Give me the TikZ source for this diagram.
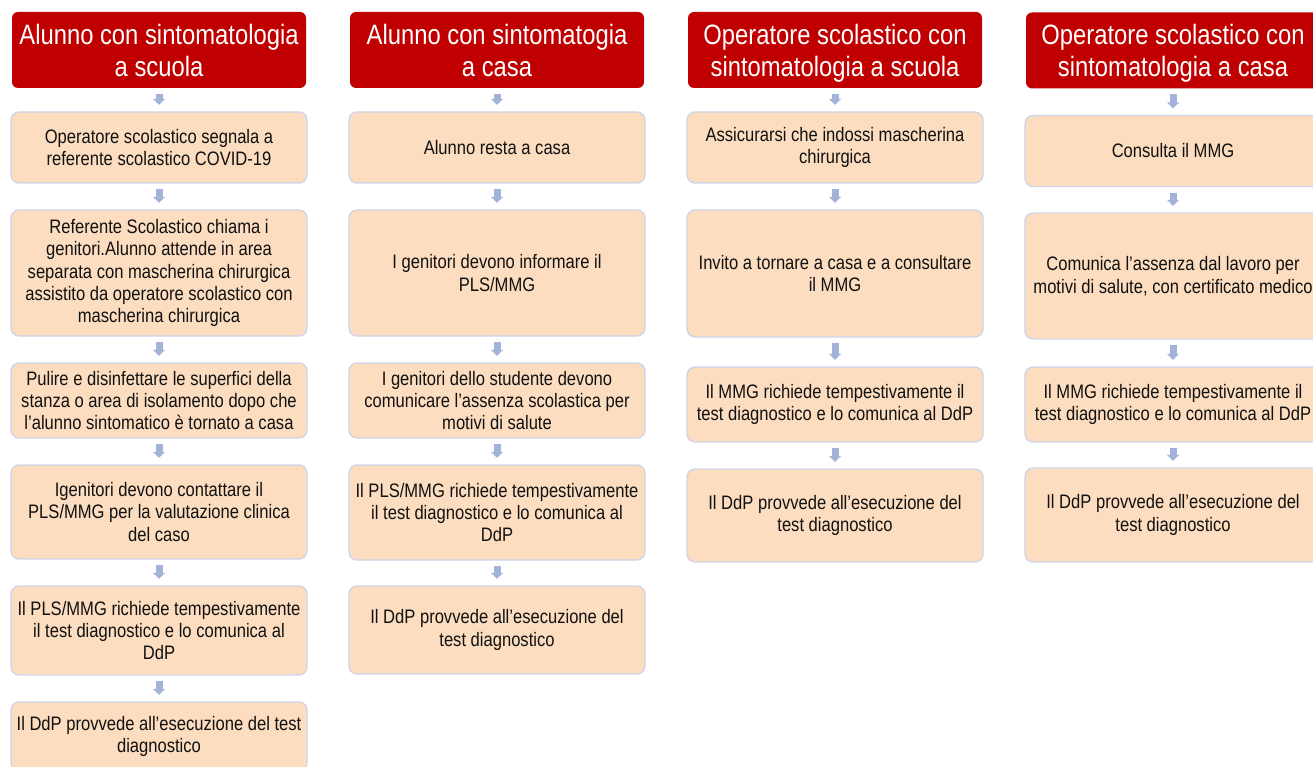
\documentclass[tikz,border=0pt]{standalone}
\usepackage{fontspec}
\setmainfont{Liberation Sans}[FakeStretch=0.85]
\usetikzlibrary{arrows.meta}
\definecolor{hdred}{HTML}{C00000}
\definecolor{peach}{HTML}{FCDDC0}
\definecolor{bordr}{HTML}{CDD4EA}
\definecolor{arrc}{HTML}{A2B2D8}
\definecolor{txt}{HTML}{111111}
\tikzset{
  head/.style={fill=hdred, draw=none, rounded corners=6pt, minimum width=294pt, minimum height=76pt,
    text=white, align=center, font=\fontsize{28}{32}\selectfont, inner sep=0pt, text depth=0pt},
  box/.style={fill=peach, draw=bordr, line width=1.3pt, rounded corners=8pt, minimum width=296pt,
    text=txt, align=center, font=\fontsize{19.5}{22.4}\selectfont, inner sep=0pt},
  flow/.style={draw=arrc, line width=7pt, shorten >=6.5pt, shorten <=5.5pt,
    -{Triangle[width=12pt,length=6pt]}}
}
\begin{document}
\begin{tikzpicture}[x=1pt,y=-1pt]
\useasboundingbox (0,0) rectangle (1313,767);
\clip (0,0) rectangle (1313,767);
% Column 1
\node[head] (h1) at (159,50) {Alunno con sintomatologia\\a scuola};
\node[box, minimum height=71pt] (a1) at (159,147.5) {Operatore scolastico segnala a\\referente scolastico COVID-19};
\node[box, minimum height=126pt] (a2) at (159,273) {Referente Scolastico chiama i\\genitori.Alunno attende in area\\separata con mascherina chirurgica\\assistito da operatore scolastico con\\mascherina chirurgica};
\node[box, minimum height=75pt] (a3) at (159,400.5) {Pulire e disinfettare le superfici della\\stanza o area di isolamento dopo che\\l’alunno sintomatico è tornato a casa};
\node[box, minimum height=94pt] (a4) at (159,512) {Igenitori devono contattare il\\PLS/MMG per la valutazione clinica\\del caso};
\node[box, minimum height=89pt] (a5) at (159,630.5) {Il PLS/MMG richiede tempestivamente\\il test diagnostico e lo comunica al\\DdP};
\node[box, minimum height=69pt] (a6) at (159,736.5) {Il DdP provvede all’esecuzione del test\\diagnostico};
% Column 2
\node[head] (h2) at (497,50) {Alunno con sintomatogia\\a casa};
\node[box, minimum height=71pt] (b1) at (497,147.5) {Alunno resta a casa};
\node[box, minimum height=126pt] (b2) at (497,273) {I genitori devono informare il\\PLS/MMG};
\node[box, minimum height=75pt] (b3) at (497,400.5) {I genitori dello studente devono\\comunicare l’assenza scolastica per\\motivi di salute};
\node[box, minimum height=95pt] (b4) at (497,512.5) {Il PLS/MMG richiede tempestivamente\\il test diagnostico e lo comunica al\\DdP};
\node[box, minimum height=88pt] (b5) at (497,630) {Il DdP provvede all’esecuzione del\\test diagnostico};
% Column 3
\node[head] (h3) at (835,50) {Operatore scolastico con\\sintomatologia a scuola};
\node[box, minimum height=71pt] (c1) at (835,147.5) {Assicurarsi che indossi mascherina\\chirurgica};
\node[box, minimum height=127pt] (c2) at (835,273.5) {Invito a tornare a casa e a consultare\\il MMG};
\node[box, minimum height=75pt] (c3) at (835,404.5) {Il MMG richiede tempestivamente il\\test diagnostico e lo comunica al DdP};
\node[box, minimum height=93pt] (c4) at (835,515.5) {Il DdP provvede all’esecuzione del\\test diagnostico};
% Column 4
\node[head] (h4) at (1173,50.5) {Operatore scolastico con\\sintomatologia a casa};
\node[box, minimum height=71pt] (d1) at (1173,151) {Consulta il MMG};
\node[box, minimum height=126pt] (d2) at (1173,276) {Comunica l’assenza dal lavoro per\\motivi di salute, con certificato medico};
\node[box, minimum height=75pt] (d3) at (1173,404.5) {Il MMG richiede tempestivamente il\\test diagnostico e lo comunica al DdP};
\node[box, minimum height=94pt] (d4) at (1173,515) {Il DdP provvede all’esecuzione del\\test diagnostico};
% Arrows
\draw[flow] (h1) -- (a1);
\draw[flow] (a1) -- (a2);
\draw[flow] (a2) -- (a3);
\draw[flow] (a3) -- (a4);
\draw[flow] (a4) -- (a5);
\draw[flow] (a5) -- (a6);
\draw[flow] (h2) -- (b1);
\draw[flow] (b1) -- (b2);
\draw[flow] (b2) -- (b3);
\draw[flow] (b3) -- (b4);
\draw[flow] (b4) -- (b5);
\draw[flow] (h3) -- (c1);
\draw[flow] (c1) -- (c2);
\draw[flow] (c2) -- (c3);
\draw[flow] (c3) -- (c4);
\draw[flow] (h4) -- (d1);
\draw[flow] (d1) -- (d2);
\draw[flow] (d2) -- (d3);
\draw[flow] (d3) -- (d4);
\end{tikzpicture}
\end{document}
